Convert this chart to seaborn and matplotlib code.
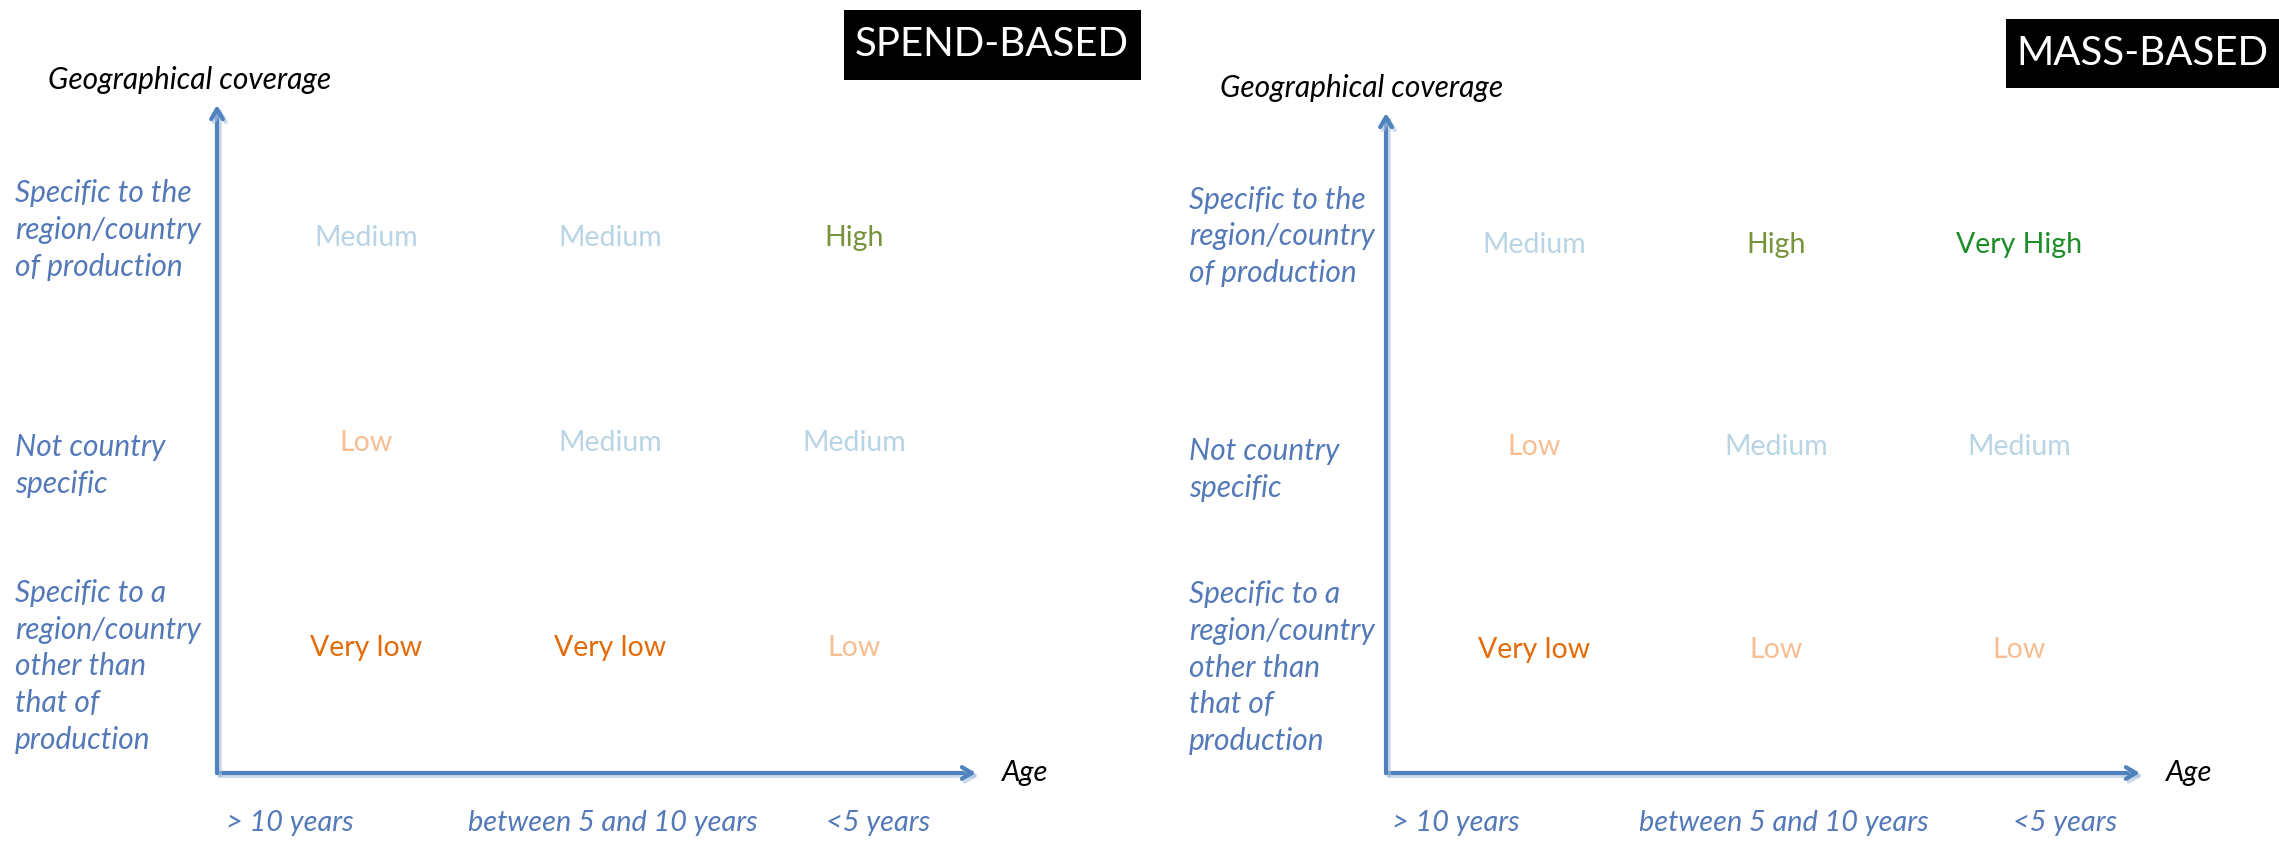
import matplotlib
matplotlib.use("Agg")
import matplotlib.pyplot as plt
import matplotlib.patheffects as pe
from matplotlib.colors import ListedColormap
from matplotlib.patches import Rectangle
import numpy as np
import pandas as pd
import seaborn as sns

# categories
age_labels = ["> 10 years", "between 5 and 10 years", "<5 years"]
coverage_labels = ["Specific to the\nregion/country\nof production",
                   "Not country\nspecific",
                   "Specific to a\nregion/country\nother than\nthat of\nproduction"]

# ratings, rows top -> bottom, columns by age
spend_ratings = [["Medium", "Medium", "High"],
                 ["Low", "Medium", "Medium"],
                 ["Very low", "Very low", "Low"]]
mass_ratings = [["Medium", "High", "Very High"],
                ["Low", "Medium", "Medium"],
                ["Very low", "Low", "Low"]]

rating_order = ["Very low", "Low", "Medium", "High", "Very High"]
rating_colors = {"Very low": "#E36C0A", "Low": "#F6BE92", "Medium": "#B9D4E4",
                 "High": "#77933C", "Very High": "#1E8C28"}

blue = "#4F81BD"
label_blue = "#5479B8"

# layout (figure pixels -> fractions), label anchors
W, H = 2279, 842
panels = [
    dict(title="SPEND-BASED", ratings=spend_ratings, box=(217, 105, 976, 773), label_x=15,
         title_box=(844, 10, 1141, 80), title_x=992, geo_xy=(48, 80),
         age_ticks=[0.19, 1.51, 2.60]),
    dict(title="MASS-BASED", ratings=mass_ratings, box=(1386, 113, 2140, 773), label_x=1189,
         title_box=(2006, 19, 2290, 88), title_x=2142, geo_xy=(1220, 88),
         age_ticks=[0.18, 1.53, 2.69]),
]
row_label_y = [0.46, 1.61, 2.59]

sns.set_theme(style="white")
plt.rcParams["font.family"] = ["Lato", "DejaVu Sans"]

fig = plt.figure(figsize=(W / 100, H / 100), dpi=100)

for p in panels:
    x0, y0, x1, y1 = p["box"]
    ax = fig.add_axes([x0 / W, 1 - y1 / H, (x1 - x0) / W, (y1 - y0) / H])
    grid = pd.DataFrame(p["ratings"], index=coverage_labels, columns=age_labels)
    scores = grid.apply(lambda c: c.map(rating_order.index))
    sns.heatmap(scores, annot=grid.values, fmt="", cmap=ListedColormap(["white"]),
                cbar=False, ax=ax, annot_kws={"fontsize": 20.5})
    for t in ax.texts:
        t.set_color(rating_colors[t.get_text()])

    ax.set_xlim(-0.11, 3.0)
    ax.set_ylim(3.11, -0.15)
    ax.set_xlabel("")
    ax.set_ylabel("")

    ax.set_xticks(p["age_ticks"], age_labels)
    ax.set_yticks(row_label_y, coverage_labels)
    ax.tick_params(axis="x", length=0, pad=27, labelsize=20.8, labelcolor=label_blue)
    ax.tick_params(axis="y", length=0, pad=(x0 - p["label_x"]) * 0.72,
                   labelsize=21.5, labelcolor=label_blue)
    for lab in ax.get_xticklabels() + ax.get_yticklabels():
        lab.set_fontstyle("italic")
    for lab in ax.get_yticklabels():
        lab.set_ha("left")
        lab.set_linespacing(1.38)
        lab.set_rotation(0)

    # axis arrows
    shadow = [pe.SimpleLineShadow(offset=(2, -2), shadow_color="#A9C0DE", alpha=0.6), pe.Normal()]
    for end in [(1, 0), (0, 1)]:
        arr = ax.annotate("", xy=end, xytext=(0, 0), xycoords="axes fraction",
                          arrowprops=dict(arrowstyle="->,head_length=0.6,head_width=0.35",
                                          color=blue, lw=3, shrinkA=0, shrinkB=0),
                          annotation_clip=False)
        arr.arrow_patch.set_path_effects(shadow)

    ax.annotate("Age", xy=(1, 0), xycoords="axes fraction", xytext=(26, 0),
                textcoords="offset pixels", ha="left", va="center",
                fontsize=21, fontstyle="italic", color="black", annotation_clip=False)

    fig.text(p["geo_xy"][0] / W, 1 - p["geo_xy"][1] / H, "Geographical coverage",
             ha="left", va="center", fontsize=21.5, fontstyle="italic", color="black")

    # black title box
    bx0, by0, bx1, by1 = p["title_box"]
    fig.patches.append(Rectangle((bx0 / W, 1 - by1 / H), (bx1 - bx0) / W, (by1 - by0) / H,
                                 transform=fig.transFigure, fc="black", ec="none"))
    fig.text(p["title_x"] / W, 1 - (by0 + by1) / 2 / H, p["title"],
             ha="center", va="center", fontsize=29, color="white")

fig.savefig("out.png", dpi=100, facecolor="white")
